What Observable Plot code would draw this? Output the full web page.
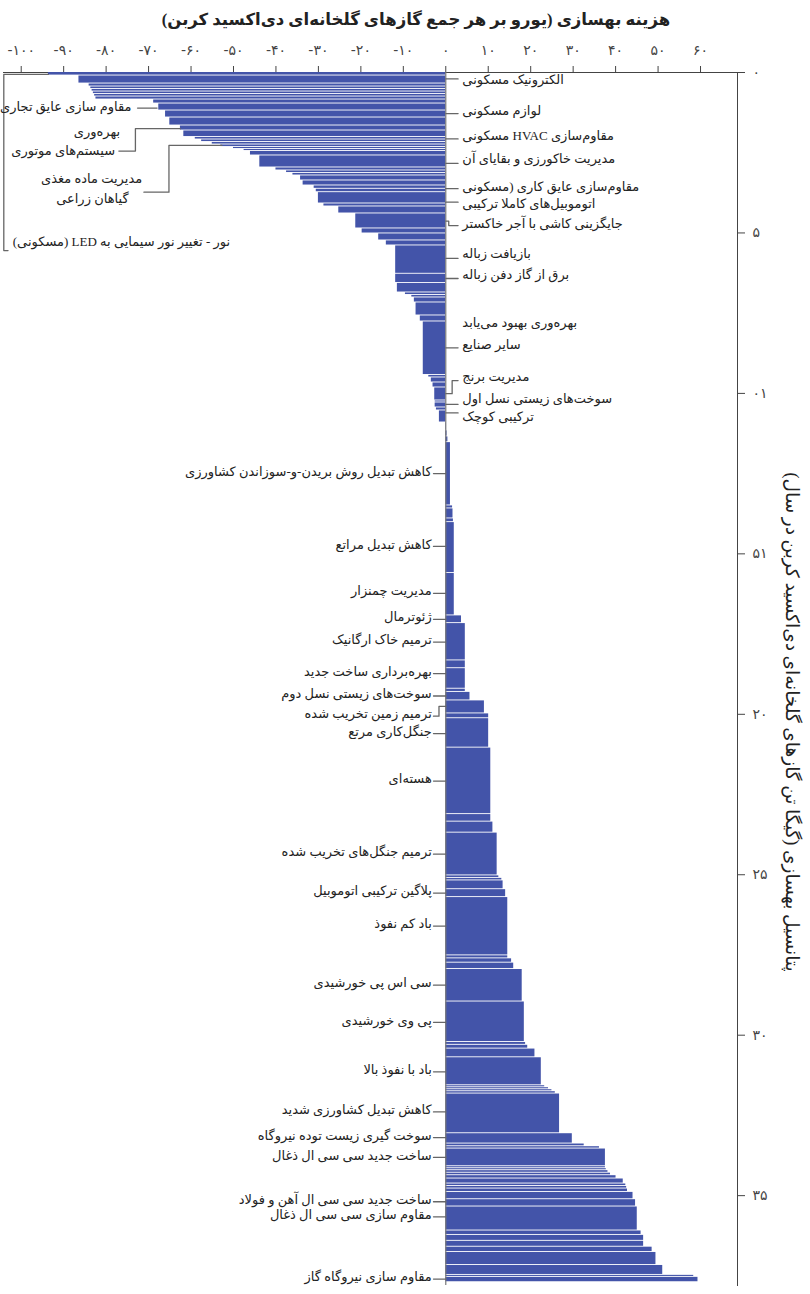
<!DOCTYPE html>
<html><head><meta charset="utf-8">
<script src="https://cdn.jsdelivr.net/npm/d3@7"></script>
<script src="https://cdn.jsdelivr.net/npm/@observablehq/plot@0.6"></script>
<style>
body{margin:0;background:#fff}
svg{display:block}
#wrap{position:relative;width:810px;height:1294px}
.ttl{position:absolute;white-space:nowrap;direction:rtl;color:#222;font-family:'Liberation Serif','DejaVu Sans',sans-serif}
#title{left:416px;top:8px;transform:translateX(-50%);font-size:16.5px;font-weight:bold;line-height:24px}
#ytitle{left:792px;top:722px;transform:translate(-50%,-50%) rotate(90deg);font-size:18.5px;line-height:22px}
</style>
</head><body><div id="wrap"><div id="chart"></div><div id="title" class="ttl"></div><div id="ytitle" class="ttl"></div></div>
<script>
// abatement cost (EUR per tCO2e), in curve order
const costs = [-93.6,-86.4,-84,-83.6,-83.3,-83,-82.7,-82.4,-68.8,-67.6,-66,-65,-62.5,-61.7,-59,-57.5,-55,-53,-50,-47.5,
-46,-43.8,-40,-37.5,-36,-34.2,-33.6,-31,-30.5,-30,-28.7,-25.2,-21.2,-19.7,-15.8,-14,-11.8,-11.8,-11.4,-9.5,
-8,-7.4,-7,-6,-5.3,-4,-3.4,-3,-2.6,-2.5,-2.5,-2.2,-1.5,0.1,0.3,0.5,1.1,1.6,1.7,1.8,
2.0,2.0,3.7,4.6,4.6,4.6,4.6,5.7,9.1,10.1,10.1,10.6,10.6,11.1,12.1,12.5,13.2,13.5,14.1,14.6,
14.6,15.5,16,18,18.5,18.8,19.3,21,22.5,23.3,24.2,25,25.8,26.8,29.8,32.6,36.2,37.6,37.6,37.8,
38.2,38.8,40.1,41.8,42.4,42.6,42.8,44.1,44.7,45.1,46,46.6,46.6,48.6,49.5,51.1,58.4,59.4];
// abatement potential of each lever (GtCO2e per year)
const widths = [0.109,0.249,0.093,0.078,0.078,0.078,0.078,0.093,0.125,0.218,0.218,0.249,0.156,0.202,0.078,0.078,0.078,0.078,0.062,0.062,
0.140,0.374,0.093,0.078,0.078,0.156,0.156,0.103,0.106,0.352,0.093,0.218,0.467,0.156,0.218,0.156,0.882,0.287,0.296,0.078,
0.078,0.156,0.405,0.187,1.667,0.078,0.156,0.156,0.405,0.062,0.156,0.093,0.374,0.249,0.187,0.178,1.972,0.093,0.312,0.115,
1.583,1.324,0.240,1.162,0.243,0.639,0.100,0.265,0.405,0.150,0.916,2.072,0.234,0.343,1.333,0.078,0.078,0.274,0.246,1.816,
0.093,0.134,0.199,1.012,1.262,0.087,0.118,0.271,0.872,0.062,0.062,0.062,0.072,1.237,0.321,0.084,0.072,0.551,0.062,0.062,
0.078,0.078,0.103,0.156,0.078,0.078,0.106,0.227,0.227,0.748,0.137,0.184,0.184,0.165,0.405,0.308,0.062,0.165];

const xTicks = [-100,-90,-80,-70,-60,-50,-40,-30,-20,-10,0,10,20,30,40,50,60];
const yTicks = [0,5,10,15,20,25,30,35];
const yTickLabels = ["۰","۵","۰۱","۵۱","۲۰","۲۵","۳۰","۳۵"];

const title = "هزینه بهسازی (یورو بر هر جمع گازهای گلخانه‌ای دی‌اکسید کربن)";
const yTitle = "پتانسیل بهسازی (گیگا تن گازهای گلخانه‌ای دی‌اکسید کربن در سال)";

// labels to the right of the zero line (upper part)
const rightLabels = ["الکترونیک مسکونی","لوازم مسکونی","مقاوم‌سازی HVAC مسکونی","مدیریت خاکورزی و بقایای آن","مقاوم‌سازی عایق کاری (مسکونی","اتوموبیل‌های کاملا ترکیبی","جایگزینی کاشی با آجر خاکستر","بازیافت زباله","برق از گاز دفن زباله","بهره‌وری بهبود می‌یابد","سایر صنایع","مدیریت برنج","سوخت‌های زیستی نسل اول","ترکیبی کوچک"];
const rightLabelAt = [0.22,1.18,1.96,2.69,3.55,4.09,4.71,5.64,6.32,7.81,8.50,9.49,10.17,10.74];
const rightLeaderAt = [0.20,1.28,2.07,2.83,3.62,4.04,null,5.79,6.42,null,8.58,null,10.34,10.61];

// labels to the left of the zero line (lower part)
const leftLabels = ["کاهش تبدیل روش بریدن-و-سوزاندن کشاورزی","کاهش تبدیل مراتع","مدیریت چمنزار","ژئوترمال","ترمیم خاک ارگانیک","بهره‌برداری ساخت جدید","سوخت‌های زیستی نسل دوم","ترمیم زمین تخریب شده","جنگل‌کاری مرتع","هسته‌ای","ترمیم جنگل‌های تخریب شده","پلاگین ترکیبی اتوموبیل","باد کم نفوذ","سی اس پی خورشیدی","پی وی خورشیدی","باد با نفوذ بالا","کاهش تبدیل کشاورزی شدید","سوخت گیری زیست توده نیروگاه","ساخت جدید سی سی ال ذغال","ساخت جدید سی سی ال آهن و فولاد","مقاوم سازی سی سی ال ذغال","مقاوم سازی نیروگاه گاز"];
const leftLabelAt = [12.50,14.77,16.23,17.04,17.75,18.73,19.43,20.06,20.60,22.08,24.36,25.57,26.60,28.44,29.60,31.14,32.39,33.19,33.81,35.19,35.66,37.60];
const leftStraight = [true,true,true,true,true,true,true,false,true,true,true,true,true,true,true,true,true,true,true,true,true,true];

// free-standing notes in the upper left
const noteLabels = ["مقاوم سازی عایق تجاری","بهره‌وری","سیستم‌های موتوری","مدیریت ماده مغذی","گیاهان زراعی","نور - تغییر نور سیمایی به LED (مسکونی)"];
const noteCost = [-74.0,-76.7,-77.9,-71.5,-74.7,-102.0];
const noteAt = [1.08,1.86,2.45,3.31,3.93,5.29];
const noteAnchor = ["end","end","end","end","end","start"];

// bent / free leader lines (cost, potential)
const bentLeaders = [
  [[0,4.63],[0.7,4.63],[0.7,4.77],[2.9,4.77]],
  [[0,10.01],[1.5,10.01],[1.5,9.60],[2.9,9.60]],
  [[0,19.75],[-1.6,19.75],[-1.6,20.06],[-2.9,20.06]],
  [[-72.6,1.11],[-68,1.11]],
  [[-77,2.45],[-73.1,2.45],[-73.1,1.75],[-62.5,1.75]],
  [[-71.1,3.73],[-65.2,3.73],[-65.2,2.27],[-52.7,2.27]],
  [[-103.1,5.55],[-104.1,5.55],[-104.1,0.06],[-93.6,0.06]]
];

// ---- build tables ----
let acc = 0;
const bars = costs.map((c, i) => { const b = {cost: c, y1: acc, y2: acc + widths[i]}; acc += widths[i]; return b; });
const rtl = s => "\u202B" + s + "\u202C";
const fa = n => String(Math.abs(n)).replace(/\d/g, d => "۰۱۲۳۴۵۶۷۸۹"[d]);
const xFmt = n => (n < 0 ? "-" : "") + fa(n);

const leaders = [];
rightLeaderAt.forEach((v, i) => { if (v != null) leaders.push([[0, v],[2.9, v]]); });
leftLabelAt.forEach((v, i) => { if (leftStraight[i]) leaders.push([[0, v],[-2.9, v]]); });
bentLeaders.forEach(p => leaders.push(p));
const leaderPts = leaders.flatMap((p, k) => p.map(([x, y]) => ({x, y, k})));

const rightData = rightLabels.map((t, i) => ({t: rtl(t), y: rightLabelAt[i]}));
const leftData = leftLabels.map((t, i) => ({t: rtl(t), y: leftLabelAt[i]}));
const noteData = noteLabels.map((t, i) => ({t: rtl(t), x: noteCost[i], y: noteAt[i], a: noteAnchor[i]}));

const FONT = "'Liberation Serif', 'DejaVu Sans', sans-serif";
const FS = 13;

const chart = Plot.plot({
  width: 810, height: 1294,
  marginTop: 72, marginBottom: 9, marginLeft: 3, marginRight: 73,
  style: {fontFamily: "'DejaVu Sans', sans-serif", fontSize: "14px", color: "#444", background: "#fff"},
  x: {domain: [-104.17, 68.71], axis: "top", ticks: xTicks, tickFormat: xFmt, tickSize: 7, tickPadding: 11, label: null, line: true},
  y: {domain: [0, 37.8], reverse: true, axis: "right", ticks: yTicks, tickFormat: d => yTickLabels[yTicks.indexOf(d)], tickSize: 7, tickPadding: 8, label: null, line: true},
  marks: [
    Plot.rect(bars, {x1: () => 0, x2: "cost", y1: "y1", y2: "y2", fill: "#4354a9", insetBottom: 0.9}),
    Plot.ruleX([0], {stroke: "#777", strokeWidth: 1.2}),
    Plot.line(leaderPts, {x: "x", y: "y", z: "k", stroke: "#666", strokeWidth: 1.3, curve: "linear"}),
    Plot.text(rightData, {x: () => 3.9, y: "y", text: "t", textAnchor: "start", fill: "#222", fontSize: FS, fontFamily: FONT}),
    Plot.text(leftData, {x: () => -3.3, y: "y", text: "t", textAnchor: "end", dy: -2, fill: "#222", fontSize: FS, fontFamily: FONT}),
    Plot.text(noteData.filter(d => d.a === "end"), {x: "x", y: "y", text: "t", textAnchor: "end", fill: "#222", fontSize: FS, fontFamily: FONT}),
    Plot.text(noteData.filter(d => d.a === "start"), {x: "x", y: "y", text: "t", textAnchor: "start", fill: "#222", fontSize: FS, fontFamily: FONT})
  ]
});
document.getElementById("chart").appendChild(chart);
document.getElementById("title").textContent = title;
document.getElementById("ytitle").textContent = yTitle;
</script>
</body></html>
